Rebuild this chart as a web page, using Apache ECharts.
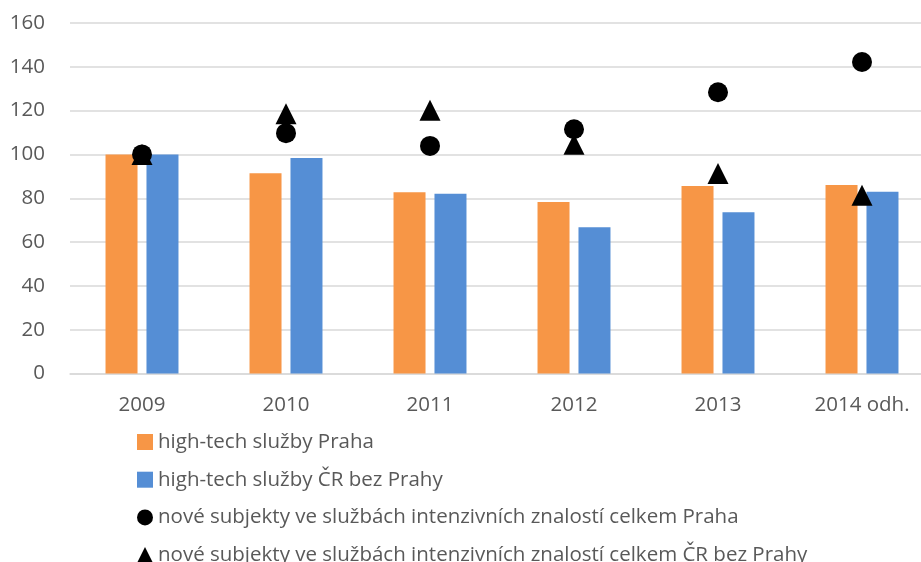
<!DOCTYPE html>
<html>
<head>
<meta charset="utf-8">
<script src="https://cdn.jsdelivr.net/npm/echarts@6/dist/echarts.min.js"></script>
<style>
  html, body { margin: 0; padding: 0; background: #fff; overflow: hidden; }
  /* plot area runs past the right edge in the original, so the canvas is wider than the window */
  #chart { width: 934px; height: 600px; }
</style>
</head>
<body>
<div id="chart"></div>
<script>
const years = ['2009', '2010', '2011', '2012', '2013', '2014 odh.'];
const htPraha = [100, 91.4, 82.7, 78.3, 85.6, 86.1];
const htCR = [100, 98.4, 82.1, 66.8, 73.6, 83.0];
const noveSubPraha = [100, 109.7, 103.9, 111.5, 128.4, 142.2];
const noveSubCR = [100, 118.6, 120.2, 104.6, 91.3, 81.4];

const names = [
  'high-tech služby Praha',
  'high-tech služby ČR bez Prahy',
  'nové subjekty ve službách intenzivních znalostí celkem Praha',
  'nové subjekty ve službách intenzivních znalostí celkem ČR bez Prahy'
];

const textColor = '#595959';
const fontFamily = '"Open Sans", sans-serif';

const chart = echarts.init(document.getElementById('chart'));

chart.setOption({
  animation: false,
  textStyle: { fontFamily },
  grid: { left: 70, right: 0, top: 23, bottom: 226.5, containLabel: false },
  xAxis: {
    type: 'category',
    data: years,
    axisLine: { lineStyle: { color: '#d9d9d9', width: 1.5 } },
    axisTick: { show: false },
    axisLabel: { color: textColor, fontSize: 20.5, margin: 21, fontFamily }
  },
  yAxis: {
    type: 'value',
    min: 0,
    max: 160,
    interval: 20,
    axisLine: { show: false },
    axisTick: { show: false },
    axisLabel: { color: textColor, fontSize: 20.5, margin: 25, fontFamily },
    splitLine: { lineStyle: { color: '#d9d9d9', width: 1.5 } }
  },
  legend: {
    orient: 'vertical',
    left: 137,
    top: 431.5,
    padding: 0,
    itemWidth: 16,
    itemHeight: 16,
    itemGap: 16.7,
    textStyle: { color: textColor, fontSize: 20.5, lineHeight: 20, fontFamily },
    data: names.map((n, i) => ({ name: n, icon: ['rect', 'rect', 'circle', 'triangle'][i] }))
  },
  series: [
    {
      name: names[0], type: 'bar', data: htPraha,
      barWidth: 32, barGap: '28%',
      itemStyle: { color: '#F79646' }
    },
    {
      name: names[1], type: 'bar', data: htCR,
      barWidth: 32,
      itemStyle: { color: '#558ED5' }
    },
    {
      name: names[2], type: 'scatter', data: noveSubPraha,
      symbol: 'circle', symbolSize: 20, z: 4,
      itemStyle: { color: '#000', opacity: 1 }
    },
    {
      name: names[3], type: 'scatter', data: noveSubCR,
      symbol: 'triangle', symbolSize: 21, z: 3,
      itemStyle: { color: '#000', opacity: 1 }
    }
  ]
});
</script>
</body>
</html>
